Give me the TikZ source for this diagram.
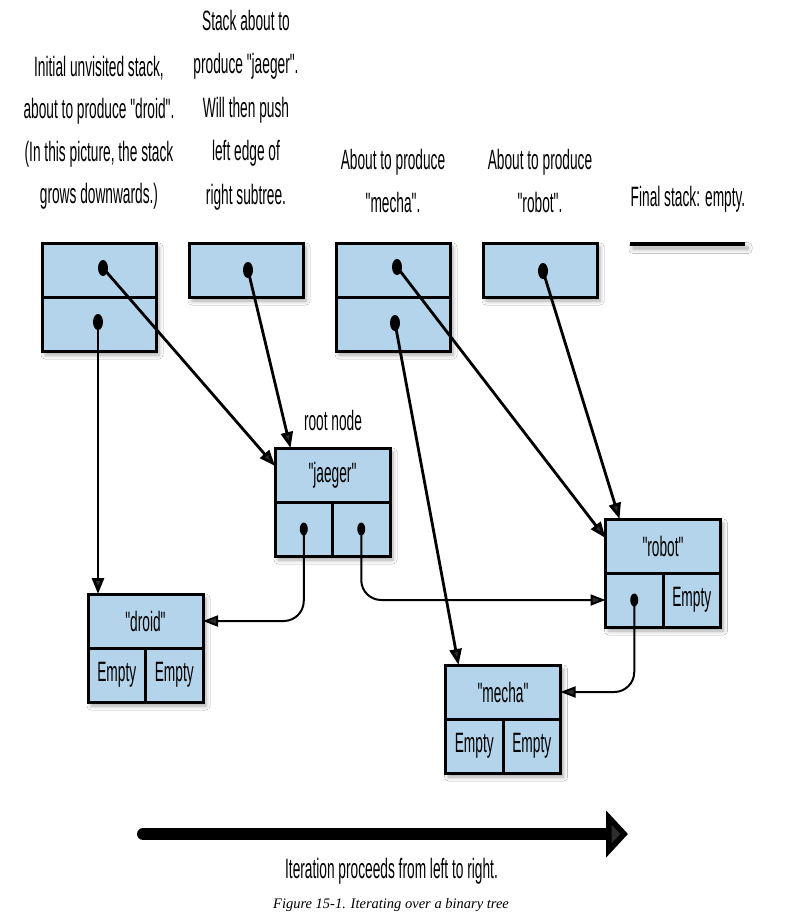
\documentclass[tikz,border=0pt]{standalone}
\usepackage{fontspec}
\newfontfamily\cond{Liberation Sans}[FakeStretch=0.49]
\newfontfamily\capfont{Liberation Serif}
\usetikzlibrary{arrows.meta,shapes.geometric,shadows.blur,calc,backgrounds}
\definecolor{boxblue}{RGB}{180,212,235}
\begin{document}
\begin{tikzpicture}[x=1pt,y=-1pt,
  txt/.style={font=\cond\fontsize{28}{34}\selectfont, inner sep=0pt, anchor=base},
  cell/.style={draw=black, line width=3pt, fill=boxblue, minimum width=114pt, minimum height=54pt,
    inner sep=0pt, outer sep=0pt, font=\cond\fontsize{28}{34}\selectfont},
  wide/.style={cell, minimum width=115pt},
  half/.style={cell, minimum width=57.5pt},
  ptr/.style={draw=none, fill=black, ellipse, minimum width=10pt, minimum height=16pt, inner sep=0pt},
  sptr/.style={ptr, minimum width=8pt, minimum height=13pt},
  conn/.style={line width=2.8pt, -{Triangle[length=16pt,width=12pt]}},
  curvedconn/.style={line width=2pt, rounded corners=20pt, -{Triangle[length=15pt,width=11pt]}},
  shadowbox/.style={blur shadow={shadow xshift=3pt, shadow yshift=-4pt, shadow opacity=35, shadow blur radius=4pt}},
]
\useasboundingbox (0,0) rectangle (791,919);

% ---- top texts
\node[txt] (t1a) at (99,76) {Initial unvisited stack,};
\node[txt] (t1b) at (99,118.5) {about to produce "droid".};
\node[txt] (t1c) at (99,161) {(In this picture, the stack};
\node[txt] (t1d) at (99,203.5) {grows downwards.)};
\node[txt] (t2a) at (246,30) {Stack about to};
\node[txt] (t2b) at (246,73.5) {produce "jaeger".};
\node[txt] (t2c) at (246,117) {Will then push};
\node[txt] (t2d) at (246,160.5) {left edge of};
\node[txt] (t2e) at (246,204) {right subtree.};
\node[txt] (t3a) at (393,169) {About to produce};
\node[txt] (t3b) at (393,212) {"mecha".};
\node[txt] (t4a) at (540,169) {About to produce};
\node[txt] (t4b) at (540,212) {"robot".};
\node[txt] (t5a) at (688,206) {Final stack: empty.};

% ---- stacks
\node[cell] (s1t) at (99,270) {};
\node[cell] (s1b) at (99,324) {};
\node[ptr] (p1t) at (103,268) {};
\node[ptr] (p1b) at (98,322) {};

\node[cell] (s2) at (246,270) {};
\node[ptr] (p2) at (248,270) {};

\node[cell] (s3t) at (393,270) {};
\node[cell] (s3b) at (393,324) {};
\node[ptr] (p3t) at (397,267) {};
\node[ptr] (p3b) at (395,323) {};

\node[cell] (s4) at (540,270) {};
\node[ptr] (p4) at (543,271) {};

\coordinate (e1) at (630,244);
\coordinate (e2) at (745,244);
\draw[line width=4pt] (e1) -- (e2);

% ---- tree nodes
\node[txt] (root) at (333,430) {root node};
\node[wide] (jt) at (332.5,475) {"jaeger"};
\node[half, anchor=north west] (jl) at (jt.south west) {};
\node[half, anchor=north east] (jr) at (jt.south east) {};
\node[sptr] (pjl) at (jl.center) {};
\node[sptr] (pjr) at (jr.center) {};

\node[wide] (dt) at (145.5,621) {"droid"};
\node[half, anchor=north west] (dl) at (dt.south west) {Empty};
\node[half, anchor=north east] (dr) at (dt.south east) {Empty};

\node[wide] (rt) at (663,546) {"robot"};
\node[half, anchor=north west] (rl) at (rt.south west) {};
\node[half, anchor=north east] (rr) at (rt.south east) {Empty};
\node[sptr] (prl) at (rl.center) {};

\node[wide] (mt) at (503,692) {"mecha"};
\node[half, anchor=north west] (ml) at (mt.south west) {Empty};
\node[half, anchor=north east] (mr) at (mt.south east) {Empty};

% ---- shadows behind the boxes
\begin{pgfonlayer}{background}
\fill[white] (0,0) rectangle (791,919);
\path[shadowbox] (s1t.north west) rectangle (s1b.south east);
\path[shadowbox] (s2.north west) rectangle (s2.south east);
\path[shadowbox] (s3t.north west) rectangle (s3b.south east);
\path[shadowbox] (s4.north west) rectangle (s4.south east);
\path[shadowbox] ([yshift=1.5pt]e1) rectangle ([yshift=-1.5pt]e2);
\path[shadowbox] (jt.north west) rectangle (jr.south east);
\path[shadowbox] (dt.north west) rectangle (dr.south east);
\path[shadowbox] (rt.north west) rectangle (rr.south east);
\path[shadowbox] (mt.north west) rectangle (mr.south east);
\end{pgfonlayer}

% ---- connectors
\draw[conn] (p1t.center) -- ([yshift=9pt]jt.west);
\draw[conn] (p1b.center) -- (p1b.center |- dt.north);
\draw[conn] (p2.center) -- ([xshift=-42pt]jt.north);
\draw[conn] (p3t.center) -- ([yshift=8pt]rt.west);
\draw[conn] (p3b.center) -- ([xshift=13pt]mt.north west);
\draw[conn] (p4.center) -- ([xshift=14pt]rt.north west);
\draw[curvedconn] (pjl.center) |- (dt.east);
\draw[curvedconn] (pjr.center) |- (rl.west);
\draw[curvedconn] (prl.center) |- (mt.east);

% ---- iteration arrow
\coordinate (a1) at (143,834);
\coordinate (a2) at (628,834);
\draw[line width=12pt, line cap=round, -{Triangle[length=22pt,width=46pt]}] (a1) -- (a2);
\node[txt] (it) at (391.5,878) {Iteration proceeds from left to right.};
\node[inner sep=0pt, anchor=base, font=\capfont\itshape\fontsize{14.5}{17}\selectfont] (cap) at (391,908) {Figure 15-1. Iterating over a binary tree};
\end{tikzpicture}
\end{document}
